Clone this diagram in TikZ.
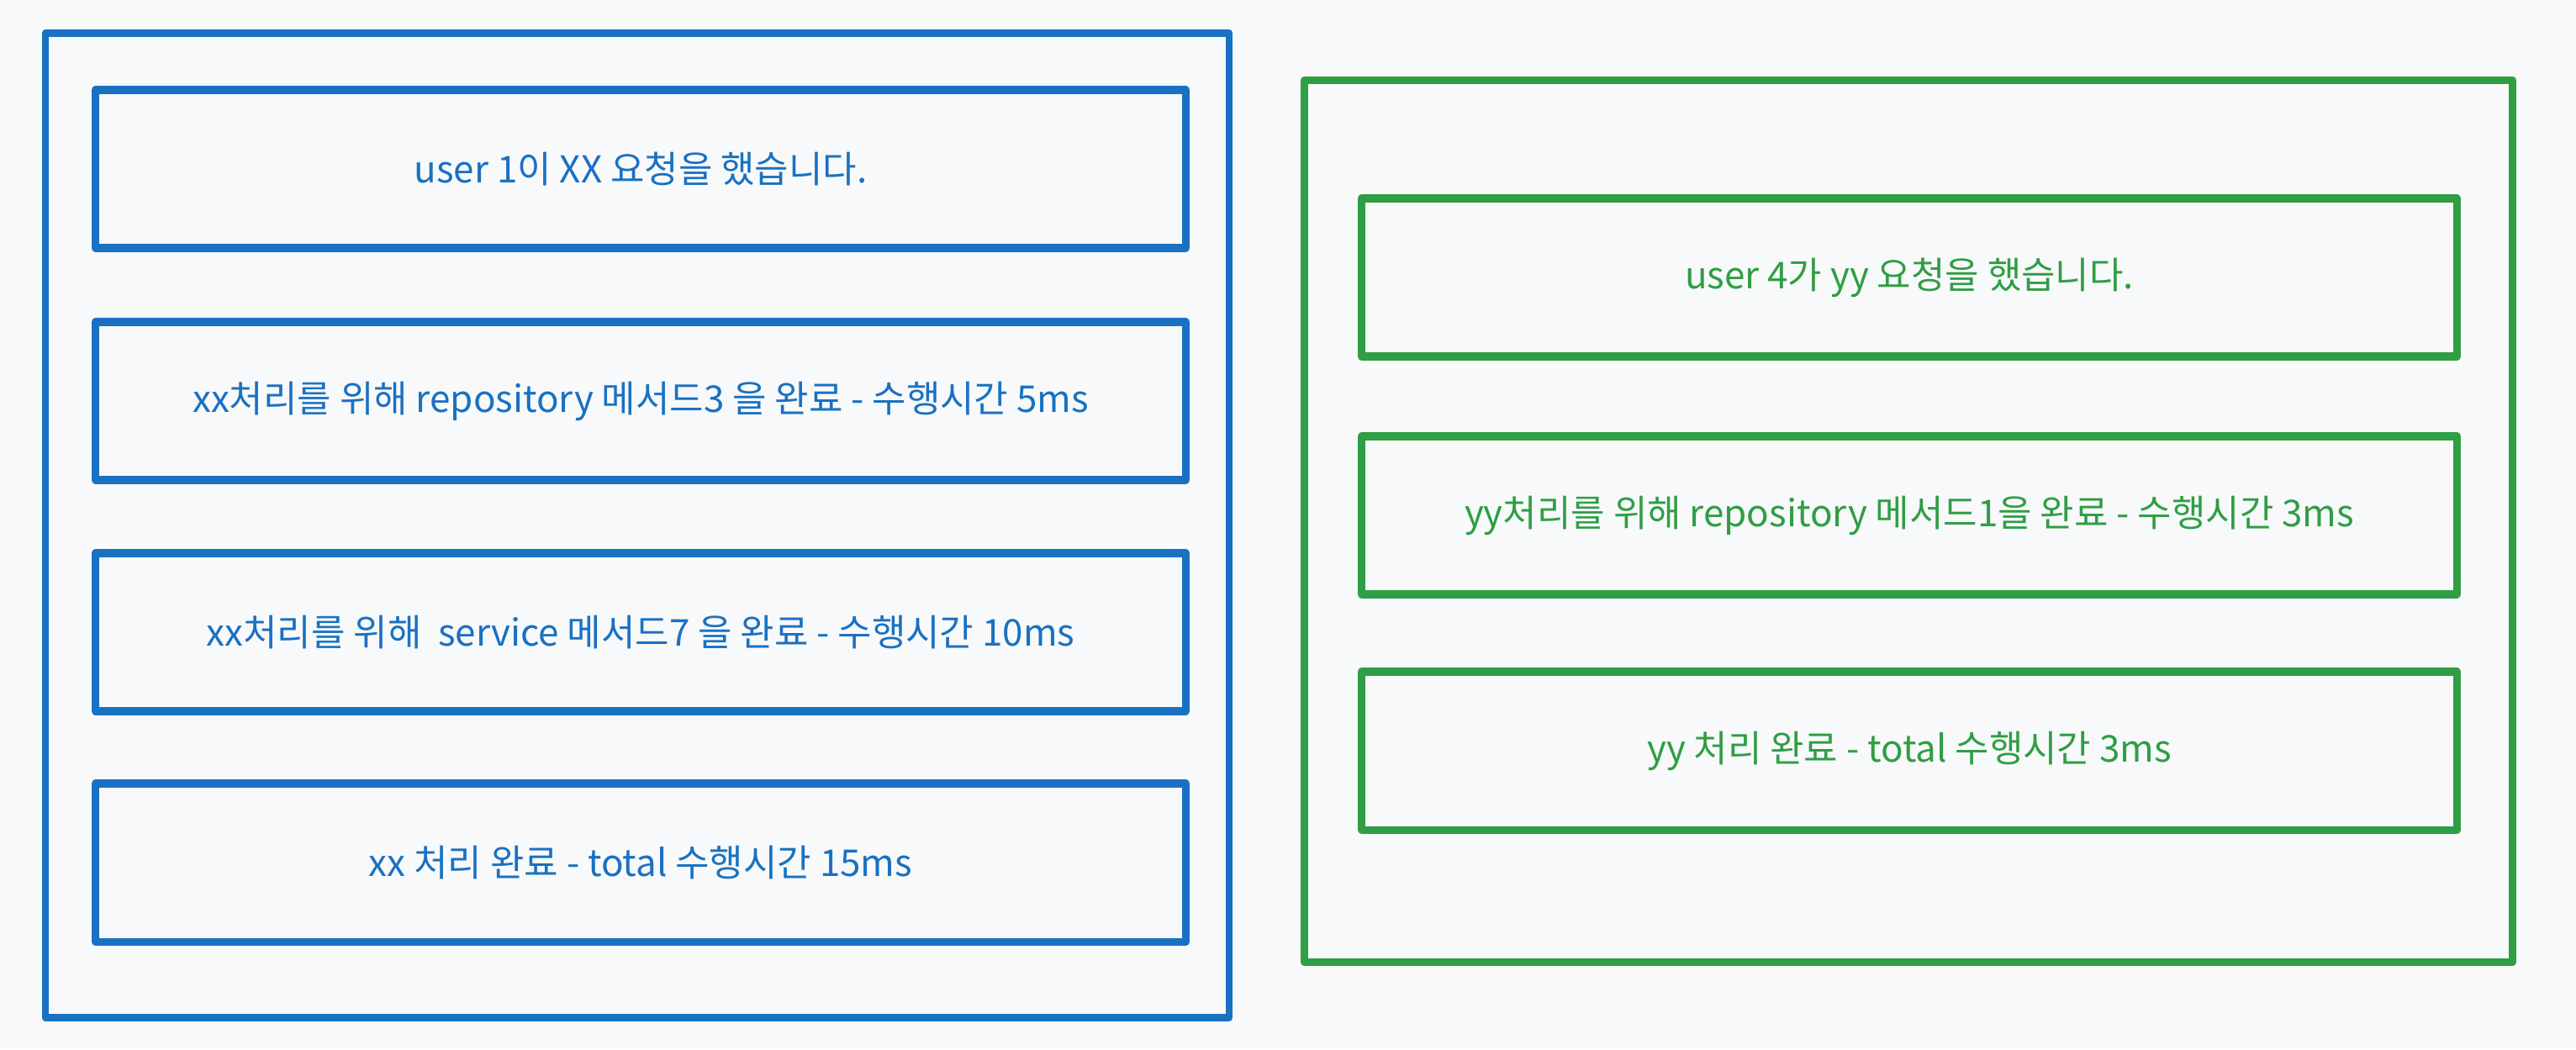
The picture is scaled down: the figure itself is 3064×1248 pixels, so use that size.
\documentclass[tikz,border=0pt]{standalone}
\usepackage{fontspec}
\setmainfont{Noto Sans CJK KR}
\definecolor{reqblue}{HTML}{1971C2}
\definecolor{reqgreen}{HTML}{2F9E44}
\definecolor{canvas}{HTML}{F8F9FA}
\tikzset{
  frame/.style={draw=#1, line width=2.5pt, line join=round, inner sep=0pt},
  stepcard/.style={draw=#1, text=#1, line width=2.6pt, line join=round, inner sep=0pt,
    minimum height=1.88cm, font=\fontsize{12.5}{15}\selectfont},
}
\begin{document}
\begin{tikzpicture}[x=0.01cm, y=-0.01cm]
  % --- canvas
  \fill[canvas] (0,0) rectangle (3064,1248);
  \useasboundingbox (0,0) rectangle (3064,1248);

  % --- left request: user 1
  \node[frame=reqblue, minimum width=14.07cm, minimum height=11.70cm] (leftframe) at (758,625) {};
  \node[stepcard=reqblue, minimum width=12.96cm] (xxreq) at (762,201) {user 1이 XX 요청을 했습니다.};
  \node[stepcard=reqblue, minimum width=12.96cm] (xxrepo) at (762,477) {xx처리를 위해 repository 메서드3 을 완료 - 수행시간 5ms};
  \node[stepcard=reqblue, minimum width=12.96cm] (xxservice) at (762,752) {xx처리를 위해 \ service 메서드7 을 완료 - 수행시간 10ms};
  \node[stepcard=reqblue, minimum width=12.96cm] (xxdone) at (762,1026) {xx 처리 완료 - total 수행시간 15ms};

  % --- right request: user 4
  \node[frame=reqgreen, minimum width=14.36cm, minimum height=10.49cm] (rightframe) at (2270,620) {};
  \node[stepcard=reqgreen, minimum width=13.02cm] (yyreq) at (2271,330) {user 4가 yy 요청을 했습니다.};
  \node[stepcard=reqgreen, minimum width=13.02cm] (yyrepo) at (2271,613) {yy처리를 위해 repository 메서드1을 완료 - 수행시간 3ms};
  \node[stepcard=reqgreen, minimum width=13.02cm] (yydone) at (2271,893) {yy 처리 완료 - total 수행시간 3ms};
\end{tikzpicture}
\end{document}
